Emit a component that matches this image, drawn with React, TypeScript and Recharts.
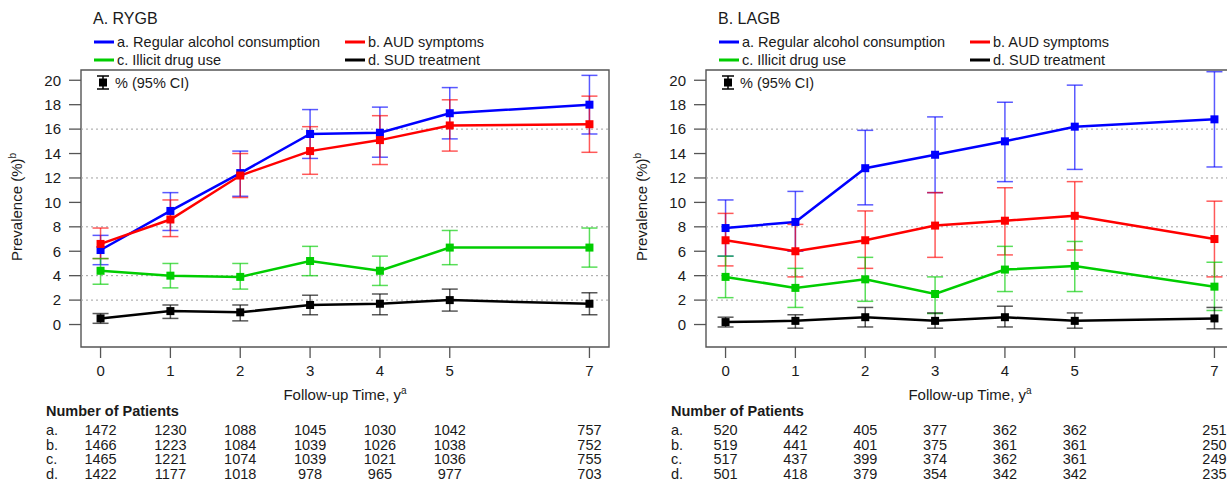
import React from 'react';
import {
  LineChart,
  Line,
  XAxis,
  YAxis,
  ErrorBar,
  ReferenceLine,
  ReferenceArea,
} from 'recharts';

// follow-up years and axis ticks
const xValues = [0, 1, 2, 3, 4, 5, 7];
const yTicks = [0, 2, 4, 6, 8, 10, 12, 14, 16, 18, 20];
const gridValues = [2, 4, 8, 12, 16];
const xDomain = [-0.28, 7.28];
const yDomain = [-1.84, 20.84];
const rowLabels = ['a.', 'b.', 'c.', 'd.'];

// A. RYGB
const rygbAlc = [6.1, 9.3, 12.4, 15.6, 15.7, 17.3, 18.0];
const rygbAlcLo = [4.9, 7.7, 10.5, 13.6, 13.7, 15.2, 15.6];
const rygbAlcHi = [7.3, 10.8, 14.2, 17.6, 17.8, 19.4, 20.4];
const rygbAud = [6.6, 8.6, 12.2, 14.2, 15.1, 16.3, 16.4];
const rygbAudLo = [5.4, 7.2, 10.4, 12.3, 13.1, 14.2, 14.1];
const rygbAudHi = [7.9, 10.2, 14.0, 16.2, 17.1, 18.4, 18.7];
const rygbDrug = [4.4, 4.0, 3.9, 5.2, 4.4, 6.3, 6.3];
const rygbDrugLo = [3.3, 3.0, 2.9, 4.0, 3.2, 4.9, 4.7];
const rygbDrugHi = [5.4, 5.0, 5.0, 6.4, 5.6, 7.7, 7.9];
const rygbSud = [0.5, 1.1, 1.0, 1.6, 1.7, 2.0, 1.7];
const rygbSudLo = [0.1, 0.5, 0.3, 0.8, 0.8, 1.1, 0.8];
const rygbSudHi = [0.9, 1.6, 1.6, 2.4, 2.5, 2.9, 2.6];
const rygbCounts = [
  [1472, 1230, 1088, 1045, 1030, 1042, 757],
  [1466, 1223, 1084, 1039, 1026, 1038, 752],
  [1465, 1221, 1074, 1039, 1021, 1036, 755],
  [1422, 1177, 1018, 978, 965, 977, 703],
];

// B. LAGB
const lagbAlc = [7.9, 8.4, 12.8, 13.9, 15.0, 16.2, 16.8];
const lagbAlcLo = [5.6, 6.0, 9.8, 10.8, 11.7, 12.7, 12.9];
const lagbAlcHi = [10.2, 10.9, 15.9, 17.0, 18.2, 19.6, 20.7];
const lagbAud = [6.9, 6.0, 6.9, 8.1, 8.5, 8.9, 7.0];
const lagbAudLo = [4.8, 3.9, 4.6, 5.5, 5.7, 6.1, 3.9];
const lagbAudHi = [9.1, 8.2, 9.3, 10.8, 11.2, 11.7, 10.1];
const lagbDrug = [3.9, 3.0, 3.7, 2.5, 4.5, 4.8, 3.1];
const lagbDrugLo = [2.2, 1.4, 1.9, 0.9, 2.7, 2.7, 1.15];
const lagbDrugHi = [5.6, 4.6, 5.5, 3.9, 6.4, 6.8, 5.1];
const lagbSud = [0.2, 0.3, 0.6, 0.3, 0.6, 0.3, 0.5];
const lagbSudLo = [-0.2, -0.3, -0.2, -0.3, -0.2, -0.3, -0.35];
const lagbSudHi = [0.6, 0.8, 1.4, 0.95, 1.5, 0.95, 1.4];
const lagbCounts = [
  [520, 442, 405, 377, 362, 362, 251],
  [519, 441, 401, 375, 361, 361, 250],
  [517, 437, 399, 374, 362, 361, 249],
  [501, 418, 379, 354, 342, 342, 235],
];

const series = [
  { key: 'a', name: 'a. Regular alcohol consumption', color: '#0000ff' },
  { key: 'b', name: 'b. AUD symptoms', color: '#ff0000' },
  { key: 'c', name: 'c. Illicit drug use', color: '#00cd00' },
  { key: 'd', name: 'd. SUD treatment', color: '#000000' },
];

type Triple = [number[], number[], number[]];

function buildRows(sets: Triple[]) {
  return xValues.map((x, i) => {
    const row: Record<string, any> = { x };
    sets.forEach(([v, lo, hi], s) => {
      const k = series[s].key;
      row[k] = v[i];
      row[k + 'Err'] = [v[i] - lo[i], hi[i] - v[i]];
    });
    return row;
  });
}

const rygbRows = buildRows([
  [rygbAlc, rygbAlcLo, rygbAlcHi],
  [rygbAud, rygbAudLo, rygbAudHi],
  [rygbDrug, rygbDrugLo, rygbDrugHi],
  [rygbSud, rygbSudLo, rygbSudHi],
]);
const lagbRows = buildRows([
  [lagbAlc, lagbAlcLo, lagbAlcHi],
  [lagbAud, lagbAudLo, lagbAudHi],
  [lagbDrug, lagbDrugLo, lagbDrugHi],
  [lagbSud, lagbSudLo, lagbSudHi],
]);

const W = 640;
const H = 483;
const TEXT = '#1a1a1a';
const FRAME = '#555';
const ROW_Y = 435;
const ROW_STEP = 14.5;

function squareDot(color: string) {
  return (p: any) => (
    <rect key={`d-${p.index}`} x={p.cx - 4} y={p.cy - 4} width={8} height={8} fill={color} />
  );
}

// tick label plus the patient counts under it
function makeTick(counts: number[][]) {
  return (props: any) => {
    const { x, y, payload } = props;
    const i = xValues.indexOf(payload.value);
    return (
      <g>
        <text x={x} y={y + 16} textAnchor="middle" fontSize={15} fill={TEXT}>
          {payload.value}
        </text>
        {counts.map((row, r) => (
          <text
            key={r}
            x={x}
            y={ROW_Y + r * ROW_STEP}
            textAnchor="middle"
            fontSize={14.5}
            fill={TEXT}
          >
            {row[i]}
          </text>
        ))}
      </g>
    );
  };
}

function Overlay({ title }: { title: string }) {
  return (
    <svg width={W} height={H} style={{ position: 'absolute', left: 0, top: 0, pointerEvents: 'none' }}>
      <text x={93} y={24} fontSize={16} fill={TEXT}>{title}</text>
      {series.map((s, i) => {
        const lx = i % 2 === 0 ? 94 : 345;
        const ly = i < 2 ? 42 : 60;
        return (
          <g key={s.key}>
            <line x1={lx} x2={lx + 20} y1={ly} y2={ly} stroke={s.color} strokeWidth={3} />
            <text x={lx + 23} y={ly + 5} fontSize={14.5} fill={TEXT}>{s.name}</text>
          </g>
        );
      })}
      <g stroke="#000" strokeWidth={1.5}>
        <line x1={103} x2={103} y1={76} y2={89} />
        <line x1={97} x2={109} y1={76} y2={76} />
        <line x1={97} x2={109} y1={89} y2={89} />
      </g>
      <rect x={99} y={78.5} width={8} height={8} fill="#000" />
      <text x={115} y={87.5} fontSize={14.5} fill={TEXT}>% (95% CI)</text>
      <text transform="translate(22,207) rotate(-90)" textAnchor="middle" fontSize={15} fill={TEXT}>
        Prevalence (%)<tspan dy={-6} fontSize={10}>b</tspan>
      </text>
      <text x={345} y={400} textAnchor="middle" fontSize={15} fill={TEXT}>
        Follow-up Time, y<tspan dy={-6} fontSize={10}>a</tspan>
      </text>
      <text x={46} y={416} fontSize={14.5} fontWeight="bold" fill={TEXT}>Number of Patients</text>
      {rowLabels.map((r, i) => (
        <text key={r} x={46} y={ROW_Y + i * ROW_STEP} fontSize={14.5} fill={TEXT}>{r}</text>
      ))}
    </svg>
  );
}

function Panel({ title, rows, counts, left }: { title: string; rows: any[]; counts: number[][]; left: number }) {
  return (
    <div style={{ position: 'absolute', left, top: 0, width: W, height: H }}>
      <LineChart width={W} height={H} data={rows} margin={{ top: 70, right: 31, bottom: 6, left: 0 }}>
        <XAxis
          dataKey="x"
          type="number"
          domain={xDomain}
          ticks={xValues}
          interval={0}
          allowDataOverflow
          axisLine={false}
          tickSize={11}
          tickLine={{ stroke: FRAME, strokeWidth: 1.3 }}
          height={130}
          tick={makeTick(counts)}
        />
        <YAxis
          type="number"
          domain={yDomain}
          ticks={yTicks}
          interval={0}
          allowDataOverflow
          width={81}
          axisLine={false}
          tickSize={12}
          tickMargin={8}
          tickLine={{ stroke: FRAME, strokeWidth: 1.3 }}
          tick={{ fontSize: 15, fill: TEXT }}
        />
        {gridValues.map((g) => (
          <ReferenceLine key={g} y={g} stroke="#a0a0a0" strokeDasharray="2 3" strokeWidth={1} />
        ))}
        {series.map((s) => (
          <Line
            key={s.key}
            type="linear"
            dataKey={s.key}
            stroke={s.color}
            strokeWidth={2.5}
            dot={squareDot(s.color)}
            activeDot={false}
            isAnimationActive={false}
          >
            <ErrorBar
              dataKey={s.key + 'Err'}
              direction="y"
              width={8}
              stroke={s.color}
              strokeOpacity={0.65}
              strokeWidth={1.5}
              isAnimationActive={false}
            />
          </Line>
        ))}
        <ReferenceArea
          x1={xDomain[0]}
          x2={xDomain[1]}
          y1={yDomain[0]}
          y2={yDomain[1]}
          fill="none"
          stroke={FRAME}
          strokeWidth={1.4}
          ifOverflow="visible"
        />
      </LineChart>
      <Overlay title={title} />
    </div>
  );
}

export default function App() {
  return (
    <div
      style={{
        position: 'relative',
        width: 1227,
        height: 483,
        overflow: 'hidden',
        background: '#fff',
        fontFamily: '"Liberation Sans", Arial, sans-serif',
      }}
    >
      <style>{'body{margin:0;overflow:hidden}'}</style>
      <Panel title="A. RYGB" rows={rygbRows} counts={rygbCounts} left={0} />
      <Panel title="B. LAGB" rows={lagbRows} counts={lagbCounts} left={624.7} />
    </div>
  );
}
